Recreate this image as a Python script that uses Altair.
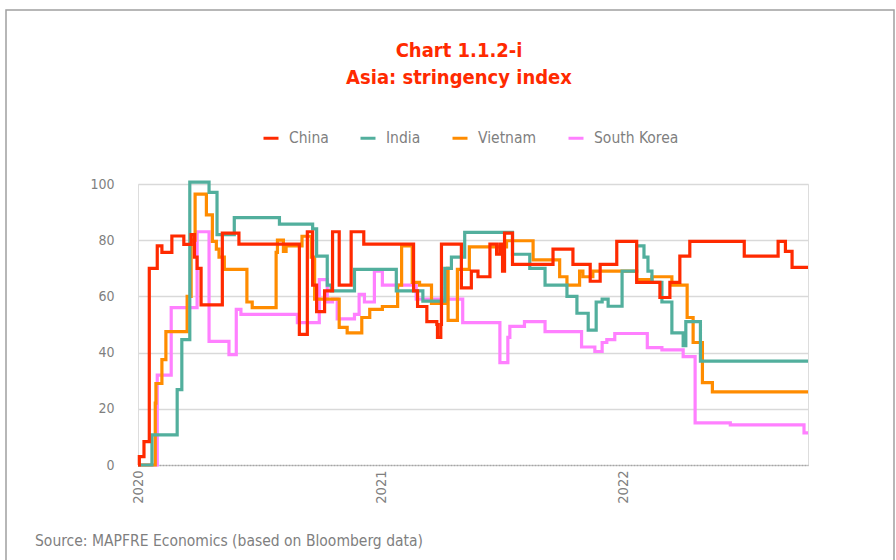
import altair as alt
import pandas as pd

FONT = "DejaVu Sans Condensed"

countries = ["China", "India", "Vietnam", "South Korea"]
colors = ["#FF2A00", "#52AF9D", "#FF8C00", "#FF80FF"]

# days since 2020-01-01 and index values (step series)
china_days = [0, 2, 9, 17, 29, 36, 51, 69, 80, 85, 89, 95, 127, 152, 243, 255, 263, 269, 281,
              293, 303, 321, 340, 415, 421, 435, 450, 451, 456, 457, 487, 502, 512, 530, 540,
              545, 549, 552, 564, 625, 655, 681, 696, 721, 751, 786, 801, 816, 831, 913, 964,
              975, 985, 1009]
china_vals = [0, 3, 8.3, 70, 78, 75.7, 81.5, 78.5, 82, 74, 70, 57, 82.5, 78.6, 46.5, 83, 64, 54.6, 62,
              83, 64, 83, 78.6, 62, 56.4, 51, 50, 45.4, 50, 78.6, 63, 69, 67, 78.6, 75,
              78.6, 69, 82.5, 71.4, 76.8, 71.4, 65.4, 71.4, 79.6, 65, 59.6, 65, 74.3, 79.6, 74.3, 79.6,
              76, 70.3, 70.3]

india_days = [0, 21, 59, 66, 78, 107, 119, 145, 213, 263, 269, 285, 291, 326, 389, 429, 462, 472,
              492, 564, 590, 613, 646, 661, 678, 690, 699, 708, 729, 751, 762, 768, 774, 789, 804,
              821, 825, 847, 1009]
india_vals = [0, 10.7, 26.8, 44.6, 100.7, 97, 82, 88, 85.7, 84, 74.3, 64, 62, 69.6, 62, 58.3, 70, 74,
              82.8, 75, 70, 64, 60, 54, 48, 58, 59, 56.5, 69, 78, 74, 69, 65, 58, 47,
              42.5, 51, 37, 37]

vietnam_days = [0, 26, 27, 36, 42, 74, 80, 86, 103, 112, 118, 122, 130, 164, 172, 208, 210, 219,
                223, 247, 261, 266, 303, 315, 337, 349, 368, 391, 397, 413, 424, 442, 466, 467,
                481, 499, 555, 595, 635, 646, 665, 670, 685, 751, 774, 804, 827, 836, 850, 865, 1009]
vietnam_vals = [0, 22, 29, 37.5, 47.5, 60, 80, 96.4, 89, 79.6, 76.8, 74, 69.6, 58, 56, 75.7, 80, 76,
                78, 81.4, 74, 59, 49, 47, 52.5, 55.4, 56.4, 64, 78, 65, 64, 57.5, 70, 51.5,
                69.6, 77.6, 79.8, 73, 67, 64, 69, 67, 69, 66, 67, 64, 52.5, 43.6, 29.3, 26, 26]

korea_days = [0, 29, 50, 89, 107, 137, 148, 155, 240, 273, 285, 293, 300, 326, 333, 341, 356, 368,
              419, 489, 545, 557, 560, 582, 613, 668, 688, 699, 706, 718, 767, 789, 821, 839, 892,
              1003, 1009]
korea_vals = [0, 32, 56, 83, 44, 39.3, 55.4, 53.6, 50.7, 66, 58, 59, 52, 53.6, 60.7, 58, 69, 64,
              59, 50.7, 36.4, 45.4, 49.3, 51, 47.5, 42, 40.4, 43.6, 44.6, 46.8, 41.8, 41, 38.6, 15, 14.3,
              11.4, 11.4]

y_ticks = [0, 20, 40, 60, 80, 100]
year_ticks = [2020, 2021, 2022]

start = pd.Timestamp("2020-01-01")
series = [("South Korea", korea_days, korea_vals), ("Vietnam", vietnam_days, vietnam_vals),
          ("India", india_days, india_vals), ("China", china_days, china_vals)]
rows = []
for name, days, vals in series:
    for d, v in zip(days, vals):
        rows.append({"date": (start + pd.Timedelta(days=d)).strftime("%Y-%m-%d"),
                     "country": name, "value": v})
df = pd.DataFrame(rows)
end_date = (start + pd.Timedelta(days=max(china_days))).strftime("%Y-%m-%d")

lines = alt.Chart(df).mark_line(interpolate="step-after", strokeWidth=3.2).encode(
    x=alt.X("date:T",
            scale=alt.Scale(domain=["2020-01-01", end_date]),
            axis=alt.Axis(values=[alt.DateTime(year=y, month=1, date=1) for y in year_ticks],
                          format="%Y", labelAngle=-90, grid=False, ticks=False,
                          domain=True, domainColor="#a6a6a6", domainDash=[2, 1], domainWidth=1.5,
                          labelColor="#7f7f7f", labelFontSize=14.5, labelFont=FONT,
                          labelPadding=5, title=None)),
    y=alt.Y("value:Q",
            scale=alt.Scale(domain=[0, 100], nice=False),
            axis=alt.Axis(values=y_ticks, grid=True, gridColor="#d9d9d9", gridWidth=1.5,
                          gridOpacity={"condition": {"test": "datum.value === 0", "value": 0}, "value": 1},
                          domain=False, ticks=False, labelPadding=24, labelColor="#7f7f7f",
                          labelFontSize=14, labelFont=FONT, title=None)),
    color=alt.Color("country:N",
                    scale=alt.Scale(domain=countries, range=colors),
                    legend=alt.Legend(orient="none", legendX=124, legendY=-55, direction="horizontal",
                                      title=None, symbolType="stroke", symbolSize=225,
                                      symbolStrokeWidth=3, labelFontSize=15.5, labelFont=FONT,
                                      labelColor="#7f7f7f", columnPadding=25, labelOffset=9)),
)

frame = alt.Chart(alt.Data(values=[{"a": 1}])).mark_rect(
    fillOpacity=0, stroke="#a0a0a0", strokeWidth=1.5
).encode(x=alt.value(6 - 138), x2=alt.value(894 - 138), y=alt.value(10 - 184), y2=alt.value(620 - 184))

source = alt.Chart(alt.Data(values=[{"a": 1}])).mark_text(
    align="left", baseline="middle", fontSize=15.5, font=FONT, color="#7f7f7f"
).encode(x=alt.value(35 - 138), y=alt.value(541 - 184),
         text=alt.value("Source: MAPFRE Economics (based on Bloomberg data)"))

chart = alt.layer(frame, lines, source).properties(
    width=670, height=281,
    padding={"left": 138, "top": 184, "right": 88, "bottom": 95},
    autosize=alt.AutoSizeParams(type="none"),
    title=alt.TitleParams(["Chart 1.1.2-i", "Asia: stringency index"], color="#FF2A00",
                          fontSize=20, font=FONT, fontWeight="bold", anchor="middle", dx=-14,
                          lineHeight=27, offset=-79),
).configure_view(stroke=None).configure(background="white")

chart.save("out.html", embed_options={"renderer": "svg", "actions": False})
